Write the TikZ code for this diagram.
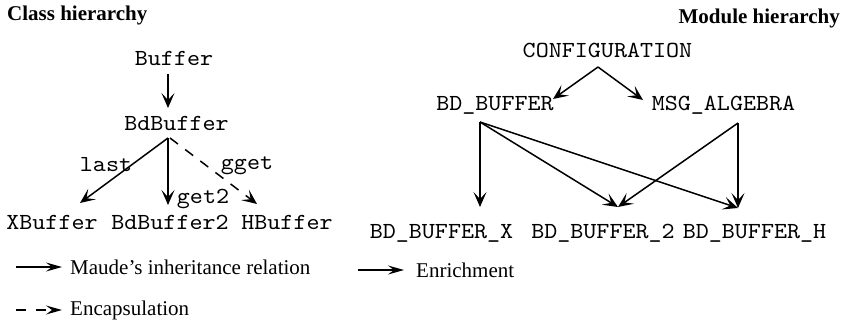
\documentclass[tikz,border=0pt]{standalone}
\usepackage{fontspec}
\setmainfont{Liberation Serif}
\setmonofont{lmmono10-regular.otf}[FakeStretch=1.08]
\usetikzlibrary{arrows.meta,calc}

\tikzset{
  cls/.style={font=\ttfamily\fontsize{23}{26}\selectfont, inner sep=0pt, anchor=center},
  title/.style={font=\bfseries\fontsize{21}{24}\selectfont, inner sep=0pt},
  legtext/.style={font=\fontsize{21}{24}\selectfont, inner ysep=0pt, anchor=west},
  lbl/.style={font=\ttfamily\fontsize{23}{26}\selectfont, inner sep=0pt},
  rel/.style={line width=1.5pt, -{Stealth[length=15pt,width=13pt,inset=7pt]}},
  encap/.style={rel, dash pattern=on 10pt off 9pt},
  legrel/.style={line width=1.3pt, -{Stealth[length=16pt,width=9pt,inset=6pt]}},
}

\begin{document}
\begin{tikzpicture}[x=1pt,y=-1pt]
\useasboundingbox (0,0) rectangle (854,325);

% titles
\node[title, anchor=west] (tcls) at (7,15) {Class hierarchy};
\node[title, anchor=east] (tmod) at (840,18) {Module hierarchy};

% class hierarchy
\node[cls] (buf)  at (174,58)   {Buffer};
\node[cls] (bdb)  at (176.5,123) {BdBuffer};
\node[cls] (xb)   at (52,222)   {XBuffer};
\node[cls] (bdb2) at (170,222)  {BdBuffer2};
\node[cls] (hb)   at (287,222)  {HBuffer};

\draw[rel] ($(buf)+(-6,16)$) -- ($(bdb)+(-8.5,-15)$);
\draw[rel] ($(bdb)+(-8.5,15)$) -- ($(xb)+(28,-19)$);
\draw[rel] ($(bdb)+(-8.5,15)$) -- ($(bdb2)+(-2,-17)$);
\draw[encap] ($(bdb)+(-6.5,15)$) -- ($(hb)+(-30,-18)$);

\node[lbl] (llast) at (106,165) {last};
\node[lbl] (lget2) at (203,199) {get2};
\node[lbl] (lgget) at (247,166) {gget};

% module hierarchy
\node[cls] (cfg)   at (607.5,50) {CONFIGURATION};
\node[cls] (bdbuf) at (495,105)  {BD\_BUFFER};
\node[cls] (msg)   at (723.5,105) {MSG\_ALGEBRA};
\node[cls] (bx)    at (441.5,233) {BD\_BUFFER\_X};
\node[cls] (b2)    at (603,233)  {BD\_BUFFER\_2};
\node[cls] (bh)    at (754.5,233) {BD\_BUFFER\_H};

\draw[rel] ($(cfg)+(-9.5,17)$) -- ($(bdbuf)+(58,-6)$);
\draw[rel] ($(cfg)+(-9.5,17)$) -- ($(msg)+(-80.5,-5)$);
\draw[rel] ($(bdbuf)+(-15,17)$) -- ($(bx)+(38.5,-26)$);
\draw[rel] ($(bdbuf)+(-15,17)$) -- ($(b2)+(15,-26)$);
\draw[rel] ($(bdbuf)+(-15,17)$) -- ($(bh)+(-16.5,-25)$);
\draw[rel] ($(msg)+(14.5,18)$) -- ($(b2)+(15,-26)$);
\draw[rel] ($(msg)+(14.5,18)$) -- ($(bh)+(-16.5,-25)$);

% legend
\coordinate (k1) at (16,267);
\coordinate (k2) at (16,310);
\coordinate (k3) at (358,270);
\node[legtext, inner xsep=8pt]  (leg1) at (62,267)  {Maude’s inheritance relation};
\node[legtext, inner xsep=8pt]  (leg2) at (62,310)  {Encapsulation};
\node[legtext, inner xsep=12pt] (leg3) at (404,270) {Enrichment};
\draw[legrel] (k1) -- (leg1.west);
\draw[legrel, dash pattern=on 10pt off 10pt] (k2) -- (leg2.west);
\draw[legrel] (k3) -- (leg3.west);
\end{tikzpicture}
\end{document}
